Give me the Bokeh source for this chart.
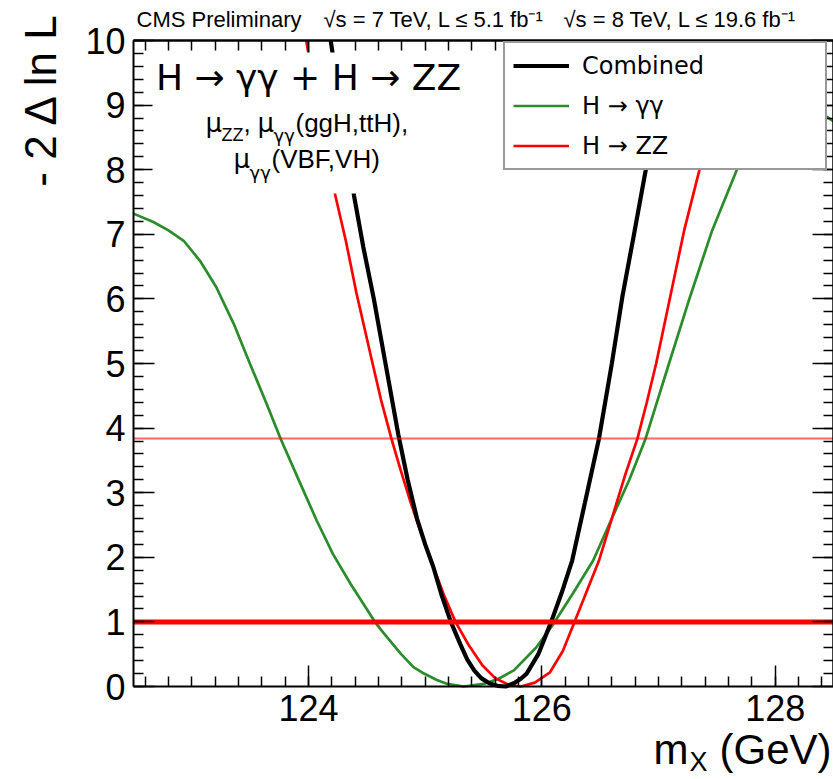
from math import pi
from bokeh.plotting import figure
from bokeh.models import (Range1d, LinearAxis, SingleIntervalTicker, FixedTicker, Label,
                          BoxAnnotation, Legend, LegendItem)
from bokeh.embed import file_html
from bokeh.resources import INLINE

# ---------------- data ----------------
mass_comb = [124.19, 124.30, 124.39, 124.47, 124.56, 124.66, 124.77, 124.85, 124.93,
             125.00, 125.07, 125.14, 125.22, 125.30, 125.36, 125.42, 125.48, 125.55,
             125.62, 125.69, 125.76, 125.82, 125.87, 125.97, 126.08, 126.17, 126.26,
             126.37, 126.49, 126.60, 126.69, 126.79, 126.89, 126.98, 127.07]
nll_comb = [10.0, 8.7, 7.6, 6.8, 6.0, 5.0, 3.9, 3.2, 2.6,
            2.2, 1.85, 1.42, 1.0, 0.66, 0.42, 0.25, 0.13, 0.05,
            0.01, 0.0, 0.05, 0.12, 0.2, 0.5, 1.0, 1.45, 1.95,
            2.85, 3.84, 5.0, 6.03, 7.0, 7.99, 9.0, 10.0]

mass_gg = [122.50, 122.67, 122.80, 122.93, 123.07, 123.21, 123.36, 123.50, 123.64,
           123.76, 123.93, 124.07, 124.21, 124.36, 124.57, 124.62, 124.79, 124.90,
           124.99, 125.10, 125.19, 125.33, 125.50, 125.63, 125.76, 125.95, 126.10,
           126.27, 126.44, 126.60, 126.75, 126.89, 127.09, 127.27, 127.46, 127.67,
           127.90, 128.10, 128.30, 128.44, 128.50]
nll_gg = [7.32, 7.19, 7.06, 6.90, 6.59, 6.18, 5.61, 4.99, 4.38,
          3.84, 3.14, 2.57, 2.05, 1.59, 1.0, 0.88, 0.51, 0.30,
          0.20, 0.10, 0.04, 0.0, 0.04, 0.12, 0.25, 0.6, 0.97,
          1.45, 1.95, 2.6, 3.2, 3.84, 5.0, 6.03, 7.06, 7.99,
          8.6, 8.9, 8.95, 8.82, 8.75]

mass_zz = [123.98, 124.10, 124.23, 124.32, 124.41, 124.53, 124.62, 124.71, 124.79,
           124.87, 124.96, 125.06, 125.16, 125.26, 125.37, 125.49, 125.60, 125.71,
           125.82, 125.94, 126.07, 126.18, 126.28, 126.38, 126.49, 126.60, 126.71,
           126.82, 126.90, 126.98, 127.10, 127.22, 127.35, 127.47, 127.59]
nll_zz = [10.0, 8.8, 7.6, 6.9, 6.1, 5.15, 4.45, 3.84, 3.35,
          2.88, 2.4, 1.9, 1.42, 1.0, 0.65, 0.33, 0.13, 0.03,
          0.0, 0.06, 0.22, 0.55, 1.0, 1.45, 1.95, 2.6, 3.25,
          3.84, 4.4, 5.0, 6.03, 7.06, 7.99, 9.0, 10.0]

cl_levels = [1.0, 3.84]          # 68% and 95% CL lines
cl_widths = [5, 2]
cl_alphas = [1.0, 0.6]
series_labels = ["Combined", "H \u2192 \u03b3\u03b3", "H \u2192 ZZ"]
x_limits = (122.5, 128.5)
y_limits = (0.0, 10.0)
x_major = [124, 126, 128]
y_major = list(range(0, 11))
x_minor = [round(122.6 + 0.2 * i, 1) for i in range(30)]
y_minor = [round(0.2 * i, 1) for i in range(1, 50)]

# ---------------- layout ----------------
SANS = "Liberation Sans"
GREEK = "DejaVu Sans"
W, H = 833, 779
# plot box (axes) inside the canvas, in pixels
PL, PR, PT, PB = 133, 833, 40, 686


def xd(px):
    return x_limits[0] + (px - PL) * (x_limits[1] - x_limits[0]) / (PR - PL)


def yd(py):
    return y_limits[0] + (PB - py) * (y_limits[1] - y_limits[0]) / (PB - PT)


p = figure(width=W, height=H, output_backend="svg", toolbar_location=None,
           x_range=Range1d(xd(0), xd(W)), y_range=Range1d(yd(H), yd(0)),
           min_border_left=0, min_border_right=0, min_border_top=0, min_border_bottom=0,
           x_axis_location=None, y_axis_location=None,
           background_fill_color="white", border_fill_color="white")
p.xgrid.visible = False
p.ygrid.visible = False
p.outline_line_color = None


def style_axis(ax, major_len=21, minor_len=10):
    ax.axis_line_color = "black"
    ax.axis_line_width = 2
    ax.major_tick_in = major_len
    ax.major_tick_out = 0
    ax.minor_tick_in = minor_len
    ax.minor_tick_out = 0
    ax.major_tick_line_color = "black"
    ax.minor_tick_line_color = "black"
    ax.major_tick_line_width = 1.5
    ax.minor_tick_line_width = 1.5
    ax.major_label_text_font = SANS
    ax.major_label_text_font_size = "36px"
    ax.major_label_text_color = "black"
    ax.major_label_standoff = 8


# bottom and left axes with labels
ax_b = LinearAxis(ticker=SingleIntervalTicker(interval=2, num_minor_ticks=10),
                  fixed_location=y_limits[0], bounds=x_limits)
style_axis(ax_b)
p.add_layout(ax_b, "below")
ax_l = LinearAxis(ticker=SingleIntervalTicker(interval=1, num_minor_ticks=5),
                  fixed_location=x_limits[0], bounds=y_limits)
style_axis(ax_l)
p.add_layout(ax_l, "left")

# top and right axes: ticks only (no labels)
for ticks, length in ((x_minor, 10), (x_major, 21)):
    ax = LinearAxis(ticker=FixedTicker(ticks=[], minor_ticks=ticks),
                    fixed_location=y_limits[1], bounds=x_limits)
    style_axis(ax, minor_len=length)
    p.add_layout(ax, "above")
for ticks, length in ((y_minor, 10), (y_major, 21)):
    ax = LinearAxis(ticker=FixedTicker(ticks=[], minor_ticks=ticks),
                    fixed_location=x_limits[1], bounds=y_limits)
    style_axis(ax, minor_len=length)
    p.add_layout(ax, "right")

# ---------------- curves ----------------
r_gg = p.line(mass_gg, nll_gg, line_color="#2a8c2a", line_width=2.7)
r_zz = p.line(mass_zz, nll_zz, line_color="#ff0000", line_width=2.7)
r_cb = p.line(mass_comb, nll_comb, line_color="black", line_width=4.2)

p.segment(x0=[x_limits[0]] * len(cl_levels), x1=[x_limits[1]] * len(cl_levels),
          y0=cl_levels, y1=cl_levels, line_color="#ff0000",
          line_width=cl_widths, line_alpha=cl_alphas)

# white area behind the in-plot caption (hides the curves there)
p.add_layout(BoxAnnotation(left=xd(152), right=xd(470), top=yd(52), bottom=yd(193),
                           fill_color="white", fill_alpha=1.0, line_color=None))


# ---------------- texts ----------------
BASE_SHIFT = 0.35   # measured offset of the rendered alphabetic baseline (in em)


def txt(px, py, s, size, font=SANS, align="left", baseline="alphabetic", angle=0.0):
    if baseline == "alphabetic":
        py = py - BASE_SHIFT * size
    p.add_layout(Label(x=xd(px), y=yd(py), text=s, text_font=font,
                       text_font_size=f"{size}px", text_align=align,
                       text_baseline=baseline, angle=angle, text_color="black"))


# header
txt(136, 27, "CMS Preliminary", 22)
txt(323, 27, "\u221as = 7 TeV, L \u2264 5.1 fb\u207b\u00b9", 22)
txt(563, 27, "\u221as = 8 TeV, L \u2264 19.6 fb\u207b\u00b9", 22)

# in-plot caption
txt(308, 90, "H \u2192 \u03b3\u03b3 + H \u2192 ZZ", 36, font=GREEK, align="center")
# line 1: mu_ZZ, mu_gg(ggH,ttH),
txt(205, 132, "\u03bc", 26, font=GREEK)
txt(221, 141, "ZZ", 18)
txt(243, 132, ",", 26)
txt(257, 132, "\u03bc", 26, font=GREEK)
txt(273, 141, "\u03b3\u03b3", 18, font=GREEK)
txt(295, 132, "(ggH,ttH),", 26)
# line 2: mu_gg(VBF,VH)
txt(233, 168, "\u03bc", 26, font=GREEK)
txt(249, 178, "\u03b3\u03b3", 18, font=GREEK)
txt(271, 168, "(VBF,VH)", 26)

# axis titles
txt(40, 10, "- 2 \u0394 ln L", 44, align="right", baseline="middle", angle=pi / 2)
txt(831, 764, "(GeV)", 42, align="right")
txt(707, 771, "X", 27, align="right")
txt(688, 764, "m", 42, align="right")

# ---------------- legend ----------------
legend = Legend(items=[LegendItem(label=series_labels[0], renderers=[r_cb]),
                       LegendItem(label=series_labels[1], renderers=[r_gg]),
                       LegendItem(label=series_labels[2], renderers=[r_zz])],
                location=(503, H - 170), orientation="vertical",
                label_text_font=GREEK, label_text_font_size="24px",
                label_text_color="black",
                glyph_width=56, glyph_height=29, label_height=29,
                label_width=235, label_standoff=13, spacing=11, padding=8,
                margin=0, border_line_color="#333333", border_line_width=2,
                background_fill_color="white", background_fill_alpha=1.0)
p.add_layout(legend)

open("out.html", "w").write(file_html(p, INLINE))
